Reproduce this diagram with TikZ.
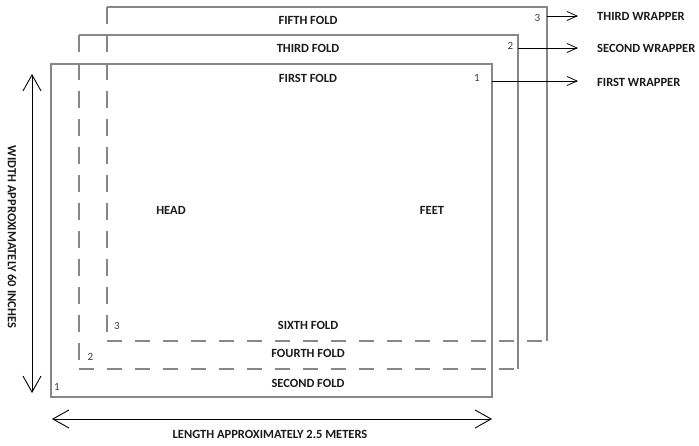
\documentclass[tikz,border=0pt]{standalone}
\usepackage{fontspec}
\setmainfont{Carlito}
\usetikzlibrary{arrows.meta}
\definecolor{foldgray}{HTML}{878787}
\definecolor{numgray}{HTML}{3C3C3C}
\definecolor{txt}{HTML}{1A1A1A}
\begin{document}
\begin{tikzpicture}[x=1pt,y=-1pt,
  fold/.style={draw=foldgray,line width=1.4pt},
  vdash/.style={fold,dash pattern=on 17pt off 11pt},
  hdash/.style={fold,dash pattern=on 15pt off 13pt},
  lbl/.style={font=\bfseries\fontsize{12.5}{14}\selectfont,text=txt,inner sep=0pt},
  num/.style={font=\fontsize{11}{13}\selectfont,text=numgray,inner sep=0pt,anchor=base},
  wraparrow/.style={draw=black,line width=0.8pt,-{Straight Barb[length=10pt,width=9pt,line width=0.8pt]}},
  dimarrow/.style={draw=black,line width=0.9pt,{Straight Barb[length=16pt,width=18pt,line width=0.9pt]}-{Straight Barb[length=16pt,width=18pt,line width=0.9pt]}}]
\useasboundingbox (0,0) rectangle (699,446);

% corners of the three wrappers
\coordinate (a1) at (51,64);  \coordinate (b1) at (492,397);
\coordinate (a2) at (79,35);  \coordinate (b2) at (518,369);
\coordinate (a3) at (107,7);  \coordinate (b3) at (547,341);

% first wrapper (solid)
\draw[fold] (a1) rectangle (b1);
% second wrapper
\draw[fold] (a2) -- (a2 -| b2) -- (b2);
\draw[vdash] (a2) -- (a2 |- b2);
\draw[hdash] (a2 |- b2) -- (b2);
% third wrapper
\draw[fold] (a3) -- (a3 -| b3) -- (b3);
\draw[vdash] (a3) -- (a3 |- b3);
\draw[hdash] (a3 |- b3) -- (b3);

% fold labels
\node[lbl,anchor=base] (fifth)  at (308,25)  {FIFTH FOLD};
\node[lbl,anchor=base] (third)  at (308,53)  {THIRD FOLD};
\node[lbl,anchor=base] (firstf) at (308,83)  {FIRST FOLD};
\node[lbl,anchor=base] (sixth)  at (308,330) {SIXTH FOLD};
\node[lbl,anchor=base] (fourth) at (308,358) {FOURTH FOLD};
\node[lbl,anchor=base] (second) at (308,387) {SECOND FOLD};
\node[lbl,anchor=base] (head)   at (171,215) {HEAD};
\node[lbl,anchor=base] (feet)   at (432,215) {FEET};

% numbers
\node[num] (n3t) at (537.5,21.5) {3};
\node[num] (n2t) at (510.5,50)   {2};
\node[num] (n1t) at (477,81.5)   {1};
\node[num] (n3b) at (117,330)    {3};
\node[num] (n2b) at (90.5,361)   {2};
\node[num] (n1b) at (57,391)     {1};

% wrapper labels and arrows
\node[lbl,anchor=west] (w3) at (597,16) {THIRD WRAPPER};
\node[lbl,anchor=west] (w2) at (597,48) {SECOND WRAPPER};
\node[lbl,anchor=west] (w1) at (597,82) {FIRST WRAPPER};
\coordinate (e3) at (547,16);
\coordinate (e2) at (518,48);
\coordinate (e1) at (492,81);
\draw[wraparrow,shorten >=19pt] (e3) -- (e3 -| w3.west);
\draw[wraparrow,shorten >=19pt] (e2) -- (e2 -| w2.west);
\draw[wraparrow,shorten >=19pt] (e1) -- (e1 -| w1.west);

% dimension arrows
\coordinate (wt) at (32,74);
\coordinate (wb) at (32,393);
\draw[dimarrow] (wt) -- (wb);
\coordinate (ll) at (52,419);
\coordinate (lr) at (492,419);
\draw[dimarrow] (ll) -- (lr);
\node[lbl,rotate=-90] (width) at (12,237) {WIDTH APPROXIMATELY 60 INCHES};
\node[lbl,anchor=base] (length) at (270,438) {LENGTH APPROXIMATELY 2.5 METERS};
\end{tikzpicture}
\end{document}
